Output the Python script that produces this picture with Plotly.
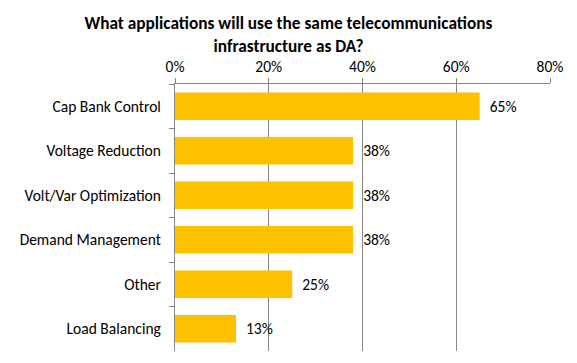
import plotly.graph_objects as go

categories = ["Cap Bank Control", "Voltage Reduction", "Volt/Var Optimization",
              "Demand Management", "Other", "Load Balancing"]
values = [65, 38, 38, 38, 25, 13]
tick_vals = [0, 20, 40, 60, 80]
tick_text = ["0%", "20%", "40%", "60%", "80%"]

FONT = "Carlito, Lato, sans-serif"

fig = go.Figure(go.Bar(
    x=values, y=categories, orientation="h",
    marker=dict(color="#FFC000", line=dict(width=0)),
    text=[f"  {v}%" for v in values],
    textposition="outside",
    textfont=dict(family=FONT, size=15.5, color="#000000"),
    cliponaxis=False,
    hoverinfo="skip",
))

fig.update_layout(
    width=577, height=363,
    margin=dict(l=175, r=27, t=84, b=12, autoexpand=False),
    paper_bgcolor="white", plot_bgcolor="white",
    bargap=0.38,
    showlegend=False,
    font=dict(family=FONT, size=15.5, color="#000000"),
    title=dict(
        text="<b>What applications will use the same telecommunications<br>infrastructure as DA?</b>",
        x=0.5, xanchor="center", y=0.92, yanchor="top",
        font=dict(family=FONT, size=17.3, color="#000000"),
    ),
    xaxis=dict(
        side="top", range=[0, 80], tickvals=tick_vals, ticktext=tick_text,
        showgrid=True, gridcolor="#868686", gridwidth=1,
        showline=True, linecolor="#868686", linewidth=1,
        ticks="outside", ticklen=5, tickcolor="#868686",
        zeroline=False, fixedrange=True, automargin=False,
    ),
    yaxis=dict(
        autorange="reversed", type="category",
        showline=True, linecolor="#868686", linewidth=1,
        ticks="outside", ticklen=5, tickcolor="#868686",
        tickson="boundaries", showgrid=False, ticklabelstandoff=10,
        automargin=False, fixedrange=True,
    ),
)

fig.write_html("out.html", config={"displayModeBar": False},
               post_script="document.body.style.margin='0';")
